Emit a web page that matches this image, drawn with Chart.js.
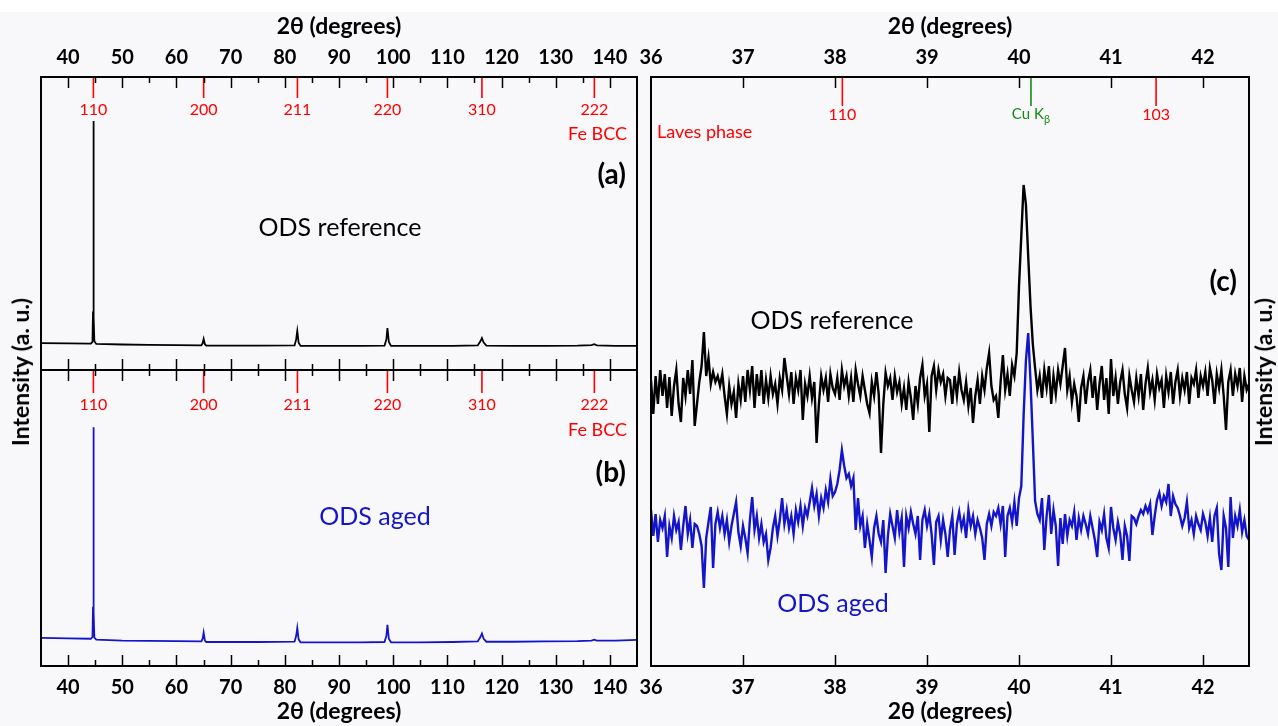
<!DOCTYPE html>
<html>
<head>
<meta charset="utf-8">
<script src="https://cdn.jsdelivr.net/npm/chart.js@4.4.1/dist/chart.umd.min.js"></script>
<style>
  html, body { margin: 0; padding: 0; }
  body { width: 1278px; height: 726px; background: #f8f8fa; position: relative; overflow: hidden; }
  canvas { position: absolute; }
  .ylab { position: absolute; font: bold 23px Lato, "DejaVu Sans", sans-serif; color: #000; white-space: nowrap;
          transform: translate(-50%, -50%) rotate(-90deg); }
</style>
</head>
<body>
<div style="position:absolute;left:0;top:0;width:1278px;height:12px;background:#fff"></div>
<canvas id="chartA" width="650" height="372" style="left:0;top:0"></canvas>
<canvas id="chartB" width="650" height="358" style="left:0;top:368px"></canvas>
<canvas id="chartC" width="658" height="726" style="left:620px;top:0"></canvas>
<div class="ylab" style="left:20px;top:372px">Intensity (a. u.)</div>
<div class="ylab" style="left:1263px;top:372px">Intensity (a. u.)</div>
<script>
// ---- full-range patterns (a) and (b), 2theta in degrees, intensity in a.u.
const fullX = [35, 40, 44.2, 44.5, 44.6, 44.67, 44.75, 44.85, 45.2, 50, 55, 60, 64.6, 64.85, 65.02, 65.25, 65.5,
  70, 75, 81.8, 82.1, 82.3, 82.55, 82.9, 88, 94, 98.4, 98.75, 98.94, 99.2, 99.6, 105, 111, 115.6, 116.1, 116.38,
  116.7, 117.2, 122, 128, 134, 136.6, 137.1, 137.6, 141, 145];
const refFull = [9.2, 9.1, 9.0, 9.6, 20, 85, 18, 9.8, 8.9, 8.7, 8.6, 8.5, 8.4, 9.2, 10.6, 8.8, 8.3,
  8.3, 8.3, 8.4, 10.5, 13.3, 9.3, 8.2, 8.2, 8.2, 8.3, 10.5, 14.3, 9.6, 8.2, 8.2, 8.2, 8.4, 9.8, 10.9,
  9.4, 8.3, 8.2, 8.2, 8.3, 8.5, 8.8, 8.4, 8.2, 8.2];
const agedFull = [9.5, 9.3, 9.2, 9.8, 20, 80.7, 18, 9.6, 8.9, 8.6, 8.5, 8.4, 8.3, 9.3, 11.3, 8.6, 8.1,
  8.1, 8.1, 8.2, 10.2, 12.9, 9.0, 8.0, 8.0, 8.0, 8.1, 10.2, 13.9, 9.2, 8.0, 8.0, 8.1, 8.3, 9.8, 11.0,
  9.2, 8.2, 8.2, 8.3, 8.4, 8.6, 8.9, 8.6, 8.6, 8.8];
const fullTicks = [40, 50, 60, 70, 80, 90, 100, 110, 120, 130, 140];
const fullMinor = [45, 55, 65, 75, 85, 95, 105, 115, 125, 135];

// Fe BCC reflections
const bccPos = [44.67, 65.02, 82.33, 98.94, 116.38, 137.13];
const bccHkl = ['110', '200', '211', '220', '310', '222'];

// ---- zoomed range (c), step scan
const zoomStart = 36.0, zoomStep = 0.025;
const refZoom = [
  286, 252, 290, 262, 296, 270, 292, 258, 289, 250,
  280, 296, 262, 244, 288, 270, 296, 272, 306, 240,
  262, 284, 300, 334, 290, 308, 282, 294, 284, 290,
  280, 292, 270, 252, 280, 262, 274, 248, 282, 266,
  290, 264, 296, 276, 300, 258, 292, 270, 296, 262,
  286, 268, 290, 272, 282, 262, 288, 276, 308, 290,
  272, 294, 262, 288, 276, 296, 246, 282, 270, 290,
  268, 284, 223, 262, 290, 276, 288, 264, 292, 278,
  272, 288, 266, 296, 280, 290, 270, 288, 264, 296,
  282, 270, 290, 276, 262, 253, 284, 270, 294, 272,
  213, 262, 293, 280, 288, 266, 290, 274, 284, 262,
  278, 256, 284, 268, 246, 280, 262, 288, 301, 270,
  282, 234, 290, 300, 276, 296, 284, 292, 270, 288,
  286, 262, 290, 270, 294, 276, 266, 284, 260, 278,
  243, 270, 286, 262, 290, 276, 298, 313, 280, 266,
  270, 248, 284, 311, 276, 292, 270, 301, 290, 313,
  380, 430, 481, 462, 410, 360, 322, 298, 276, 290,
  268, 296, 278, 300, 262, 290, 272, 296, 282, 300,
  318, 276, 290, 264, 282, 270, 244, 278, 290, 262,
  284, 296, 268, 290, 256, 282, 300, 266, 288, 252,
  307, 270, 288, 262, 284, 296, 272, 258, 290, 276,
  264, 288, 270, 292, 256, 282, 298, 274, 286, 266,
  292, 278, 286, 258, 290, 274, 294, 262, 284, 296,
  270, 288, 276, 294, 262, 288, 282, 296, 268, 290,
  280, 294, 270, 298, 286, 262, 292, 278, 296, 270,
  236, 284, 296, 270, 292, 280, 298, 264, 290, 276, 282];
const agedZoom = [
  156, 130, 152, 124, 146, 138, 150, 109, 140, 128,
  150, 136, 144, 116, 140, 160, 132, 146, 118, 142,
  140, 132, 120, 78, 128, 144, 159, 98, 142, 154,
  138, 150, 132, 146, 124, 140, 152, 164, 134, 120,
  140, 128, 113, 146, 169, 136, 150, 128, 142, 124,
  132, 106, 118, 138, 150, 130, 146, 168, 142, 156,
  138, 150, 132, 156, 144, 160, 140, 158, 150, 164,
  178, 160, 172, 150, 168, 158, 176, 164, 187, 170,
  174, 182, 196, 216, 200, 188, 192, 180, 188, 136,
  168, 140, 150, 118, 142, 126, 109, 138, 150, 132,
  124, 146, 93, 130, 152, 140, 128, 156, 134, 148,
  99, 150, 138, 154, 142, 132, 150, 106, 146, 156,
  140, 152, 132, 101, 144, 150, 126, 146, 132, 109,
  136, 150, 111, 142, 154, 138, 148, 128, 156, 140,
  150, 132, 146, 138, 128, 106, 142, 152, 140, 154,
  150, 158, 142, 160, 109, 150, 158, 144, 164, 140,
  168, 180, 250, 305, 333, 285, 226, 165, 152, 146,
  168, 116, 150, 171, 132, 156, 140, 100, 148, 122,
  152, 130, 146, 140, 154, 126, 148, 136, 150, 142,
  132, 150, 138, 126, 109, 144, 136, 152, 128, 118,
  159, 138, 126, 144, 132, 106, 140, 130, 105, 150,
  148, 142, 150, 156, 152, 160, 154, 162, 131, 150,
  166, 173, 160, 170, 164, 182, 150, 170, 162, 158,
  150, 140, 148, 164, 138, 146, 132, 150, 142, 136,
  152, 144, 130, 148, 124, 150, 158, 112, 96, 150,
  138, 99, 169, 128, 150, 140, 156, 134, 146, 130, 126];
const zoomTicks = [36, 37, 38, 39, 40, 41, 42];

// Laves phase reflections and Cu K-beta line
const lavesPos = [38.08, 41.49];
const lavesHkl = ['110', '103'];
const cuKbPos = [40.13];

const FONT = 'Lato, "DejaVu Sans", sans-serif';
const RED = '#ff0000', BLUE = '#1414c8', GREEN = '#138a13';
const tickFont = { family: FONT, size: 20, weight: 'bold' };
const titleFont = { family: FONT, size: 23, weight: 'bold' };

// frame, inward ticks, reflection markers and text notes
const decor = {
  id: 'decor',
  afterDatasetsDraw(chart, args, o) {
    const { ctx, chartArea: a } = chart;
    const sx = chart.scales.x;
    ctx.save();
    (o.marks || []).forEach(m => {
      m.pos.forEach((p, i) => {
        const px = sx.getPixelForValue(p);
        ctx.strokeStyle = m.color;
        ctx.lineWidth = 1.6;
        ctx.beginPath();
        ctx.moveTo(px, a.top);
        ctx.lineTo(px, a.top + m.len);
        ctx.stroke();
        if (!m.labels) return;
        ctx.fillStyle = m.color;
        ctx.font = m.font;
        ctx.textBaseline = 'middle';
        if (m.sub) {
          ctx.textAlign = 'left';
          const w1 = ctx.measureText(m.labels[i]).width;
          ctx.font = m.subFont;
          const w2 = ctx.measureText(m.sub).width;
          const x0 = px - (w1 + w2) / 2;
          ctx.font = m.font;
          ctx.fillText(m.labels[i], x0, a.top + m.labelDy);
          ctx.font = m.subFont;
          ctx.fillText(m.sub, x0 + w1, a.top + m.labelDy + 5);
        } else {
          ctx.textAlign = 'center';
          ctx.fillText(m.labels[i], px, a.top + m.labelDy);
        }
      });
    });

    ctx.strokeStyle = '#000';
    ctx.lineWidth = 1.5;
    const tick = (v, len) => {
      const px = Math.round(sx.getPixelForValue(v)) + 0.5;
      if (px <= a.left + 2 || px >= a.right - 2) return;
      ctx.beginPath();
      ctx.moveTo(px, a.top);
      ctx.lineTo(px, a.top + len);
      ctx.moveTo(px, a.bottom);
      ctx.lineTo(px, a.bottom - len);
      ctx.stroke();
    };
    o.major.forEach(v => tick(v, 11));
    (o.minor || []).forEach(v => tick(v, 6));

    ctx.lineWidth = 2;
    ctx.strokeRect(a.left, a.top, a.right - a.left, a.bottom - a.top);

    (o.notes || []).forEach(n => {
      ctx.fillStyle = n.color || '#000';
      ctx.font = n.font;
      ctx.textAlign = n.align || 'center';
      ctx.textBaseline = 'middle';
      ctx.fillText(n.text, a.left + n.dx, a.top + n.dy);
    });
    ctx.restore();
  }
};

function xAxis(pos, min, max, ticks, height) {
  return {
    type: 'linear', position: pos, min, max,
    afterBuildTicks: ax => { ax.ticks = ticks.map(v => ({ value: v })); },
    afterFit: ax => { ax.height = height; },
    grid: { display: false, drawTicks: false },
    border: { display: false },
    ticks: { font: tickFont, color: '#000', padding: pos === 'top' ? 7 : 10, maxRotation: 0, autoSkip: false },
    title: { display: true, text: '2θ (degrees)', font: titleFont, color: '#000',
             padding: pos === 'top' ? { top: 13, bottom: 0 } : { top: 0, bottom: 1 } }
  };
}

function series(xs, ys, color, width, order) {
  return {
    data: xs.map((x, i) => ({ x, y: ys[i] })),
    borderColor: color, borderWidth: width, pointRadius: 0, tension: 0, fill: false, order
  };
}

const baseOpts = { responsive: false, animation: false, events: [] };
const smallFont = `16px ${FONT}`;
const labelFont = `18px ${FONT}`;
const panelFont = `bold 28px ${FONT}`;
const nameFont = `25px ${FONT}`;

new Chart(document.getElementById('chartA'), {
  type: 'line',
  data: { datasets: [series(fullX, refFull, '#000', 1.8, 0)] },
  options: {
    ...baseOpts,
    layout: { padding: { left: 41, right: 13, top: 0, bottom: 2 } },
    plugins: {
      legend: { display: false }, tooltip: { enabled: false },
      decor: {
        major: fullTicks, minor: fullMinor,
        marks: [{ pos: bccPos, labels: bccHkl, color: RED, len: 21, labelDy: 33, font: smallFont }],
        notes: [
          { text: 'Fe BCC', dx: 586, dy: 57, align: 'right', font: labelFont, color: RED },
          { text: '(a)', dx: 585, dy: 98, align: 'right', font: panelFont },
          { text: 'ODS reference', dx: 299, dy: 151, font: nameFont }
        ]
      }
    },
    scales: { x: xAxis('top', 35, 145, fullTicks, 77), y: { display: false, min: 0, max: 100 } }
  },
  plugins: [decor]
});

new Chart(document.getElementById('chartB'), {
  type: 'line',
  data: { datasets: [series(fullX, agedFull, BLUE, 1.8, 0)] },
  options: {
    ...baseOpts,
    layout: { padding: { left: 41, right: 13, top: 2, bottom: 0 } },
    plugins: {
      legend: { display: false }, tooltip: { enabled: false },
      decor: {
        major: fullTicks, minor: fullMinor,
        marks: [{ pos: bccPos, labels: bccHkl, color: RED, len: 23, labelDy: 35, font: smallFont }],
        notes: [
          { text: 'Fe BCC', dx: 586, dy: 60, align: 'right', font: labelFont, color: RED },
          { text: '(b)', dx: 585, dy: 103, align: 'right', font: panelFont },
          { text: 'ODS aged', dx: 334, dy: 147, font: nameFont, color: BLUE }
        ]
      }
    },
    scales: { x: xAxis('bottom', 35, 145, fullTicks, 60), y: { display: false, min: 0, max: 100 } }
  },
  plugins: [decor]
});

const zoomX = refZoom.map((_, i) => zoomStart + i * zoomStep);

new Chart(document.getElementById('chartC'), {
  type: 'line',
  data: {
    datasets: [
      series(zoomX, refZoom, '#000', 2.4, 1),
      series(zoomX, agedZoom, BLUE, 2.4, 0)
    ]
  },
  options: {
    ...baseOpts,
    layout: { padding: { left: 31, right: 29, top: 0, bottom: 0 } },
    plugins: {
      legend: { display: false }, tooltip: { enabled: false },
      decor: {
        major: zoomTicks,
        marks: [
          { pos: lavesPos, labels: lavesHkl, color: RED, len: 29, labelDy: 38, font: smallFont },
          { pos: cuKbPos, labels: ['Cu K'], sub: 'β', color: GREEN, len: 29, labelDy: 37,
            font: `15px ${FONT}`, subFont: `11px ${FONT}` }
        ],
        notes: [
          { text: 'Laves phase', dx: 6, dy: 55, align: 'left', font: labelFont, color: RED },
          { text: '(c)', dx: 586, dy: 205, align: 'right', font: panelFont },
          { text: 'ODS reference', dx: 181, dy: 244, font: nameFont },
          { text: 'ODS aged', dx: 182, dy: 527, font: nameFont, color: BLUE }
        ]
      }
    },
    scales: {
      x: xAxis('bottom', 36, 42.5, zoomTicks, 60),
      xTop: xAxis('top', 36, 42.5, zoomTicks, 77),
      y: { display: false, min: 0, max: 589 }
    }
  },
  plugins: [decor]
});
</script>
</body>
</html>
